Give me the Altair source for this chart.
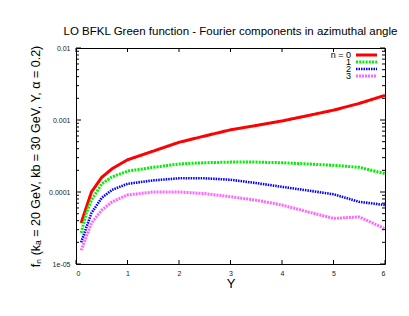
import altair as alt
import pandas as pd

# ---- data ----
Y_VALUES = [0.1, 0.2, 0.3, 0.5, 0.7, 1.0, 1.5, 2.0, 2.5, 3.0, 3.5, 4.0, 4.5, 5.0, 5.5, 6.0]
F0 = [3.7e-5, 6.1e-5, 1.0e-4, 1.6e-4, 2.1e-4, 2.8e-4, 3.7e-4, 4.9e-4, 6.0e-4, 7.3e-4, 8.4e-4, 9.7e-4, 1.15e-3, 1.37e-3, 1.7e-3, 2.2e-3]
F1 = [2.7e-5, 5.1e-5, 7.7e-5, 1.3e-4, 1.62e-4, 1.95e-4, 2.2e-4, 2.45e-4, 2.55e-4, 2.6e-4, 2.6e-4, 2.55e-4, 2.45e-4, 2.35e-4, 2.2e-4, 1.8e-4]
F2 = [2.0e-5, 3.2e-5, 5.1e-5, 8.3e-5, 1.07e-4, 1.3e-4, 1.45e-4, 1.55e-4, 1.55e-4, 1.48e-4, 1.33e-4, 1.18e-4, 1.05e-4, 9.3e-5, 7.3e-5, 6.6e-5]
F3 = [1.55e-5, 2.4e-5, 3.7e-5, 5.6e-5, 7.3e-5, 9.1e-5, 1.0e-4, 1.0e-4, 9.5e-5, 8.6e-5, 7.7e-5, 6.6e-5, 5.3e-5, 4.3e-5, 4.5e-5, 3.1e-5]
SERIES = [F0, F1, F2, F3]
LEGEND_LABELS = ["n = 0", "1", "2", "3"]
COLORS = ["#ff0000", "#00ee00", "#0000ff", "#ff66ff"]
DASHES = [[1, 0], [2, 1.2], [1.5, 1], [2, 1]]
WIDTHS = [3, 3, 2.6, 3]

X_TICKS = [0, 1, 2, 3, 4, 5, 6]
Y_MAJOR = [1e-5, 1e-4, 1e-3, 1e-2]
Y_LABELS = ["1e-05", "0.0001", "0.001", "0.01"]
Y_MINOR = [m * d for d in Y_MAJOR[:-1] for m in range(2, 10)]

TITLE = "LO BFKL Green function - Fourier components in azimuthal angle"
X_TITLE = "Y"
Y_TITLE = "fₙ (kₐ = 20 GeV, kb = 30 GeV, Y, α = 0.2)"

W, H = 309, 216
FONT = "Liberation Sans"

xscale = alt.Scale(domain=[0, 6], nice=False, zero=False)
yscale = alt.Scale(type="log", domain=[1e-5, 1e-2], nice=False)

rows = []
for i, s in enumerate(SERIES):
    for x, v in zip(Y_VALUES, s):
        rows.append({"Y": x, "f": v, "n": i})
df = pd.DataFrame(rows)

label_expr = " : ".join(
    f"datum.value < {v * 3} ? '{lab}'" for v, lab in zip(Y_MAJOR[:-1], Y_LABELS[:-1])
) + f" : '{Y_LABELS[-1]}'"

layers = []
for i in range(4):
    layers.append(
        alt.Chart(df)
        .transform_filter(alt.datum.n == i)
        .mark_line(color=COLORS[i], strokeWidth=WIDTHS[i], strokeDash=DASHES[i], clip=True)
        .encode(
            x=alt.X("Y:Q", scale=xscale,
                    axis=alt.Axis(values=X_TICKS, title=X_TITLE, ticks=False, domain=False,
                                  grid=False, labelFontSize=7, labelPadding=5,
                                  titleFontSize=13, titlePadding=1, titleFontWeight="normal",
                                  labelFont=FONT, titleFont=FONT, labelColor="#222", titleColor="#000")),
            y=alt.Y("f:Q", scale=yscale,
                    axis=alt.Axis(values=Y_MAJOR, labelExpr=label_expr, title=Y_TITLE, ticks=False,
                                  domain=False, grid=False, labelFontSize=7, labelPadding=6,
                                  titleFontSize=12.5, titlePadding=6, titleFontWeight="normal",
                                  labelFont=FONT, titleFont=FONT, labelColor="#222", titleColor="#000")),
        )
    )

# inward ticks (gnuplot style)
tmaj = pd.DataFrame({"v": Y_MAJOR})
tmin = pd.DataFrame({"v": Y_MINOR})
tx = pd.DataFrame({"v": X_TICKS})
tick_layers = []
for d, ln in [(tmaj, 5), (tmin, 3)]:
    tick_layers.append(alt.Chart(d).mark_rule(color="#000", strokeWidth=1).encode(
        y=alt.Y("v:Q", scale=yscale), x=alt.value(0), x2=alt.value(ln)))
    tick_layers.append(alt.Chart(d).mark_rule(color="#000", strokeWidth=1).encode(
        y=alt.Y("v:Q", scale=yscale), x=alt.value(W - ln), x2=alt.value(W)))
tick_layers.append(alt.Chart(tx).mark_rule(color="#000", strokeWidth=1).encode(
    x=alt.X("v:Q", scale=xscale), y=alt.value(H - 4), y2=alt.value(H)))
tick_layers.append(alt.Chart(tx).mark_rule(color="#000", strokeWidth=1).encode(
    x=alt.X("v:Q", scale=xscale), y=alt.value(0), y2=alt.value(4)))

# legend (gnuplot style: label then sample)
leg = pd.DataFrame({"label": LEGEND_LABELS, "n": [0, 1, 2, 3]})
leg_layers = []
for i in range(4):
    yy = 7 + 7 * i
    leg_layers.append(alt.Chart(leg).transform_filter(alt.datum.n == i).mark_text(
        align="right", baseline="middle", fontSize=9, font=FONT, color="#000").encode(
        text="label:N", x=alt.value(275), y=alt.value(yy)))
    leg_layers.append(alt.Chart(leg).transform_filter(alt.datum.n == i).mark_rule(
        color=COLORS[i], strokeWidth=WIDTHS[i], strokeDash=DASHES[i]).encode(
        x=alt.value(280), x2=alt.value(301), y=alt.value(yy)))

chart = alt.layer(*layers, *tick_layers, *leg_layers).properties(
    width=W, height=H,
    title=alt.TitleParams(TITLE, fontSize=11.5, font=FONT, fontWeight="normal", anchor="middle",
                          offset=7, color="#000"),
    autosize=alt.AutoSizeParams(type="none"),
    padding={"left": 68, "top": 40, "right": 16, "bottom": 44},
).configure_view(stroke="#000", strokeWidth=1)

chart.save("out.html", embed_options={"renderer": "svg", "actions": False})
